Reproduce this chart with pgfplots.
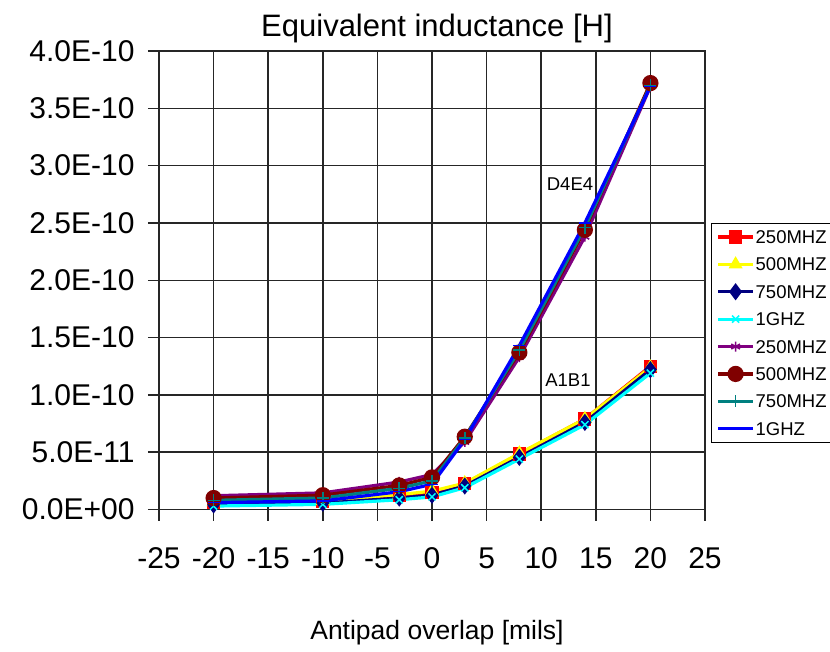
\documentclass[border=0pt]{standalone}
\usepackage{pgfplots}
\pgfplotsset{compat=1.18}
\usepackage{fontspec}
\setmainfont{Liberation Sans}
\definecolor{cNavy}{RGB}{0,0,128}
\definecolor{cCyan}{RGB}{0,255,255}
\definecolor{cYellow}{RGB}{255,255,0}
\definecolor{cRed}{RGB}{255,0,0}
\definecolor{cPurple}{RGB}{128,0,128}
\definecolor{cDarkRed}{RGB}{128,0,0}
\definecolor{cTeal}{RGB}{0,128,128}
\definecolor{cBlue}{RGB}{0,0,255}
\begin{document}
\begin{tikzpicture}
\path[use as bounding box] (-159pt,-141.5pt) rectangle (671pt,509.5pt);
\begin{axis}[
  at={(0pt,0pt)}, anchor=south west,
  scale only axis, width=546pt, height=458.5pt,
  xmin=-25, xmax=25, ymin=0, ymax=4e-10,
  xtick={-25,-20,-15,-10,-5,0,5,10,15,20,25},
  xticklabels={-25,-20,-15,-10,-5,0,5,10,15,20,25},
  ytick={0,5e-11,1e-10,1.5e-10,2e-10,2.5e-10,3e-10,3.5e-10,4e-10},
  yticklabels={0.0E+00,5.0E-11,1.0E-10,1.5E-10,2.0E-10,2.5E-10,3.0E-10,3.5E-10,4.0E-10},
  scaled y ticks=false, scaled x ticks=false,
  grid=major,
  major grid style={black!85, line width=1.5pt},
  axis line style={black!85, line width=1.5pt},
  tick style={black!85, line width=1.5pt},
  tick align=outside, tick pos=left, major tick length=11pt,
  ticklabel style={font=\fontsize{30}{36}\selectfont},
  xticklabel style={yshift=-24pt},
  yticklabel style={xshift=-10pt},
  title={Equivalent inductance [H]},
  title style={font=\fontsize{31}{37}\selectfont, at={(0.5,1)}, anchor=center, yshift=17pt, xshift=5pt},
  xlabel={Antipad overlap [mils]},
  xlabel style={font=\fontsize{26.5}{32}\selectfont, at={(axis description cs:0.5,0)}, anchor=center, yshift=-123.5pt, xshift=5pt},
  legend image code/.code={\draw[mark repeat=2,mark phase=2,#1] plot coordinates {(0pt,0pt) (17.5pt,0pt) (35pt,0pt)};},
  legend cell align=left,
  legend style={at={(1.011,0.625)}, anchor=north west, draw=black, line width=1pt, fill=white,
    font=\fontsize{18.5}{21}\selectfont, inner xsep=5pt, inner ysep=6pt, row sep=12.4pt,
    nodes={inner sep=1pt, text height=13pt, text depth=0pt}},
  every axis plot/.append style={line width=3.2pt},
]
% A1B1 group
\addplot[color=cRed, mark=square*, mark size=5pt, mark options={solid}] coordinates {
 (-20,0.60e-11) (-10,0.70e-11) (-3,1.20e-11) (0,1.45e-11) (3,2.25e-11) (8,4.85e-11) (14,7.90e-11) (20,12.5e-11)};
\addlegendentry{250MHZ}
\addplot[color=cYellow, mark=triangle*, mark size=5pt, mark options={solid}] coordinates {
 (-20,0.65e-11) (-10,0.75e-11) (-3,1.30e-11) (0,1.60e-11) (3,2.30e-11) (8,4.90e-11) (14,7.90e-11) (20,12.4e-11)};
\addlegendentry{500MHZ}
\addplot[color=cNavy, mark=diamond*, mark size=6pt, mark options={solid}] coordinates {
 (-20,0.40e-11) (-10,0.55e-11) (-3,1.00e-11) (0,1.25e-11) (3,2.05e-11) (8,4.55e-11) (14,7.60e-11) (20,12.2e-11)};
\addlegendentry{750MHZ}
\addplot[color=cCyan, mark=x, mark size=5pt, mark options={solid, line width=1.5pt}] coordinates {
 (-20,0.30e-11) (-10,0.45e-11) (-3,0.85e-11) (0,1.10e-11) (3,1.90e-11) (8,4.40e-11) (14,7.40e-11) (20,11.9e-11)};
\addlegendentry{1GHZ}
% D4E4 group
\addplot[color=cPurple, mark=asterisk, mark size=5pt, mark options={solid, line width=1.5pt}] coordinates {
 (-20,1.20e-11) (-10,1.45e-11) (-3,2.40e-11) (0,3.05e-11) (3,5.90e-11) (8,13.3e-11) (14,23.8e-11) (20,36.9e-11)};
\addlegendentry{250MHZ}
\addplot[color=cDarkRed, mark=*, mark size=6.5pt, mark options={solid}] coordinates {
 (-20,1.00e-11) (-10,1.25e-11) (-3,2.10e-11) (0,2.80e-11) (3,6.35e-11) (8,13.7e-11) (14,24.4e-11) (20,37.2e-11)};
\addlegendentry{500MHZ}
\addplot[color=cTeal, mark=+, mark size=6pt, mark options={solid, line width=1.5pt}] coordinates {
 (-20,0.80e-11) (-10,1.00e-11) (-3,1.85e-11) (0,2.50e-11) (3,6.25e-11) (8,13.9e-11) (14,24.6e-11) (20,37.0e-11)};
\addlegendentry{750MHZ}
\addplot[color=cBlue, mark=-, mark size=6pt, mark options={solid, line width=1.5pt}] coordinates {
 (-20,0.60e-11) (-10,0.75e-11) (-3,1.55e-11) (0,2.20e-11) (3,6.10e-11) (8,14.3e-11) (14,25.0e-11) (20,36.9e-11)};
\addlegendentry{1GHZ}
\node[font=\fontsize{18.5}{21}\selectfont] at (axis cs:12.64,2.84e-10) {D4E4};
\node[font=\fontsize{18.5}{21}\selectfont] at (axis cs:12.45,1.13e-10) {A1B1};
\end{axis}
\end{tikzpicture}
\end{document}
